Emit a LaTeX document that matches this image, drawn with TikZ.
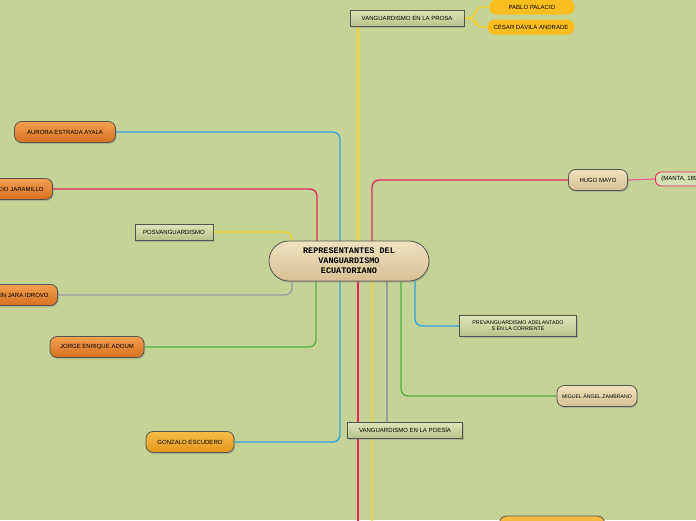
\documentclass[tikz,border=0pt]{standalone}
\usepackage{fontspec}
\setmainfont{Liberation Sans}
\setmonofont{Liberation Mono}
\usepackage{tikz}
\usetikzlibrary{shadows,backgrounds}
\definecolor{bgG}{RGB}{197,211,150}
\definecolor{edgeG}{RGB}{85,85,80}
\definecolor{orT}{RGB}{242,160,80}
\definecolor{orB}{RGB}{214,112,32}
\definecolor{goT}{RGB}{248,190,70}
\definecolor{goB}{RGB}{228,150,30}
\definecolor{tanT}{RGB}{240,225,192}
\definecolor{tanB}{RGB}{216,192,146}
\definecolor{boxT}{RGB}{222,228,186}
\definecolor{boxB}{RGB}{184,196,138}
\definecolor{yelN}{RGB}{250,190,30}
\definecolor{blueL}{RGB}{44,166,224}
\definecolor{redL}{RGB}{230,36,90}
\definecolor{ylwL}{RGB}{248,214,40}
\definecolor{grayL}{RGB}{156,156,156}
\definecolor{grnL}{RGB}{82,176,64}

\begin{document}
\begin{tikzpicture}[x=1pt, y=-1pt, font=\fontsize{6}{7}\selectfont,
  shd/.style={drop shadow={shadow xshift=1pt, shadow yshift=-1.5pt, opacity=0.35}},
  pill/.style={rectangle, rounded corners=7pt, draw=edgeG, line width=0.8pt,
               minimum height=21pt, inner xsep=9pt, shd, align=center},
  orng/.style={pill, top color=orT, bottom color=orB},
  gold/.style={pill, top color=goT, bottom color=goB},
  tanp/.style={pill, top color=tanT, bottom color=tanB},
  ylwp/.style={rectangle, rounded corners=7pt, fill=yelN, minimum height=15pt, inner xsep=6pt},
  bx/.style={rectangle, draw=edgeG, line width=0.8pt, top color=boxT, bottom color=boxB,
             minimum height=16pt, inner xsep=4pt, shd, align=center},
  ln/.style={line width=1.3pt, rounded corners=7pt}]
  \useasboundingbox (0,0) rectangle (696,520);
  % centre
  \node[tanp, rounded corners=20pt, minimum width=160pt, minimum height=40pt,
        font=\ttfamily\bfseries\fontsize{8.5}{10}\selectfont] (ctr) at (349,261)
    {REPRESENTANTES DEL\\VANGUARDISMO\\ECUATORIANO};
  % prosa
  \node[bx, minimum width=114pt] (prosa) at (407,18) {VANGUARDISMO EN LA PROSA};
  \node[ylwp, minimum width=85pt] (pablo) at (532,7) {PABLO PALACIO};
  \node[ylwp, minimum width=82pt] (cesar) at (531,27) {CÉSAR DÁVILA ANDRADE};
  % left side
  \node[orng, minimum width=101pt] (aurora) at (65,132) {AURORA ESTRADA AYALA};
  \node[orng, anchor=east] (jaram) at (53,189) {MAURICIO JARAMILLO};
  \node[bx, minimum width=78pt] (posv) at (174,232) {POSVANGUARDISMO};
  \node[orng, anchor=east] (jara) at (58,295) {EFRAÍN JARA IDROVO};
  \node[orng, minimum width=94pt] (adoum) at (97,347) {JORGE ENRIQUE ADOUM};
  \node[gold, minimum width=88pt] (gonzalo) at (190,442) {GONZALO ESCUDERO};
  % right side
  \node[tanp, minimum width=59pt] (hugo) at (598,180) {HUGO MAYO};
  \node[rectangle, rounded corners=6pt, draw=redL, line width=0.8pt, fill=bgG!70!white,
        minimum height=14pt, anchor=west, inner xsep=6pt] (manta) at (655,179) {(MANTA, 1895)};
  \node[bx, minimum width=117pt, minimum height=21pt, font=\fontsize{5.3}{6.3}\selectfont] (prev) at (518,326)
    {PREVANGUARDISMO ADELANTADO\\S EN LA CORRIENTE};
  \node[tanp, minimum width=80pt, inner xsep=5pt, font=\fontsize{5.2}{6}\selectfont] (miguel) at (597,396) {MIGUEL ÁNGEL ZAMBRANO};
  \node[bx, minimum width=115pt] (poesia) at (405,430) {VANGUARDISMO EN LA POESÍA};
  \node[gold, minimum width=105pt, minimum height=24pt] (bottom) at (552,528) {};
  \coordinate (offB) at (358,540);

  \begin{scope}[on background layer]
    \fill[bgG] (0,0) rectangle (696,520);
    \draw[ln, blueL] ([xshift=-9pt]ctr.center) |- (aurora.east);
    \draw[ln, blueL] ([xshift=-9pt]ctr.center) |- (gonzalo.east);
    \draw[ln, redL] ([xshift=-32pt]ctr.center) |- (jaram.east);
    \draw[ln, grayL] ([xshift=-57pt]ctr.center) |- (jara.east);
    \draw[ln, grnL] ([xshift=-33pt]ctr.center) |- (adoum.east);
    \draw[ln, ylwL] (posv.east) -| ([xshift=-57pt]ctr.north);
    \draw[ln, ylwL] ([xshift=9pt]ctr.center) -- ([xshift=9pt]ctr.center |- prosa.south);
    \draw[ln, ylwL] (prosa.east) -- ++(11,0) |- (pablo.west);
    \draw[ln, ylwL] (prosa.east) -- ++(11,0) |- (cesar.west);
    \draw[ln, redL] ([xshift=23pt]ctr.center) |- (hugo.west);
    \draw[ln, redL!70!white] (hugo.east) -- (manta.west);
    \draw[ln, redL] ([xshift=9pt]ctr.center) -- (offB);
    \draw[ln, ylwL] ([xshift=23pt]ctr.center) |- (bottom.west);
    \draw[ln, grayL] ([xshift=38pt]ctr.center) -- ([xshift=38pt]ctr.center |- poesia.north);
    \draw[ln, grnL] ([xshift=52pt]ctr.center) |- (miguel.west);
    \draw[ln, blueL] ([xshift=66pt]ctr.center) |- (prev.west);
  \end{scope}
\end{tikzpicture}
\end{document}
